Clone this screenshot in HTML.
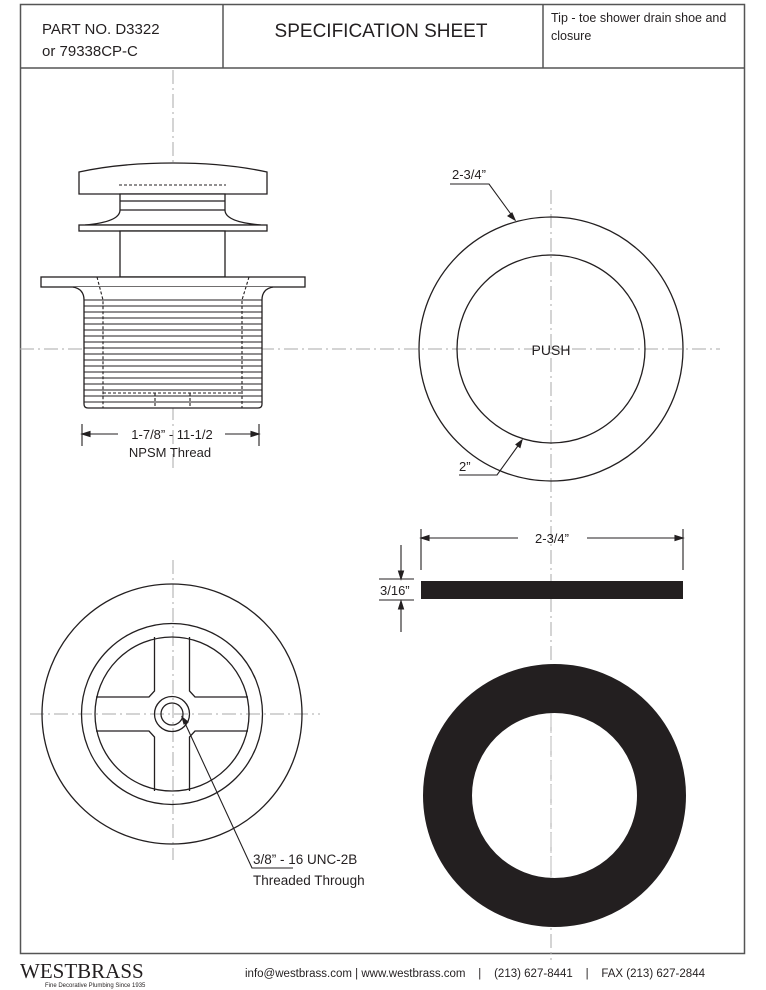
<!DOCTYPE html>
<html><head><meta charset="utf-8"><style>
html,body{margin:0;padding:0;background:#fff}
svg{display:block}
text{font-family:"Liberation Sans",sans-serif;fill:#231f20}
</style></head><body>
<svg width="766" height="990" viewBox="0 0 766 990" xmlns="http://www.w3.org/2000/svg">
<g fill="none" stroke="#231f20" stroke-width="1.3">
<rect x="20.5" y="4.5" width="724" height="949" stroke="#555" stroke-width="1.5"/>
<line x1="20" y1="68" x2="745" y2="68" stroke="#555" stroke-width="1.5"/>
<line x1="223" y1="4" x2="223" y2="68" stroke="#555" stroke-width="1.5"/>
<line x1="543" y1="4" x2="543" y2="68" stroke="#555" stroke-width="1.5"/>
</g>
<text x="42" y="34" font-size="15">PART NO.  D3322</text>
<text x="42" y="56" font-size="15">or 79338CP-C</text>
<text x="381" y="37" font-size="19" text-anchor="middle">SPECIFICATION SHEET</text>
<text x="551" y="22" font-size="12.5">Tip - toe shower drain shoe and</text>
<text x="551" y="40" font-size="12.5">closure</text>

<g stroke="#aaa" stroke-width="1" stroke-dasharray="14,4,2,4" fill="none">
<line x1="173" y1="70" x2="173" y2="470"/>
<line x1="20" y1="349" x2="720" y2="349"/>
<line x1="551" y1="190" x2="551" y2="960"/>
<line x1="173" y1="560" x2="173" y2="860"/>
<line x1="30" y1="714" x2="320" y2="714"/>
</g>

<g fill="#fff" stroke="#231f20" stroke-width="1.3">
<path d="M79 194 L79 172 Q120 163 173 163 Q226 163 267 172 L267 194 Z"/>
<path d="M120 194 L120 210 Q120 222 85 225 L261 225 Q225 222 225 210 L225 194 Z"/>
<line x1="120" y1="201" x2="225" y2="201"/>
<line x1="120" y1="210" x2="225" y2="210"/>
<rect x="79" y="225" width="188" height="6"/>
<rect x="120" y="231" width="105" height="46"/>
<rect x="41" y="277" width="264" height="10"/>
<path d="M73 287 Q84 289 84 300 L84 404 Q84 408 88 408 L258 408 Q262 408 262 404 L262 300 Q262 289 273 287"/>
</g>
<g stroke="#231f20" stroke-width="1.1">
<line x1="84" y1="300" x2="262" y2="300"/><line x1="84" y1="306" x2="262" y2="306"/>
<line x1="84" y1="312" x2="262" y2="312"/><line x1="84" y1="318" x2="262" y2="318"/>
<line x1="84" y1="324" x2="262" y2="324"/><line x1="84" y1="330" x2="262" y2="330"/>
<line x1="84" y1="336" x2="262" y2="336"/><line x1="84" y1="342" x2="262" y2="342"/>
<line x1="84" y1="348" x2="262" y2="348"/><line x1="84" y1="354" x2="262" y2="354"/>
<line x1="84" y1="360" x2="262" y2="360"/><line x1="84" y1="366" x2="262" y2="366"/>
<line x1="84" y1="372" x2="262" y2="372"/><line x1="84" y1="378" x2="262" y2="378"/>
<line x1="84" y1="384" x2="262" y2="384"/><line x1="84" y1="390" x2="262" y2="390"/>
<line x1="84" y1="396" x2="262" y2="396"/><line x1="84" y1="402" x2="262" y2="402"/>
</g>
<g stroke="#231f20" stroke-width="1.1" stroke-dasharray="3,2" fill="none">
<line x1="119" y1="185" x2="226" y2="185"/>
<path d="M97 277 L103 300 L103 408"/>
<path d="M249 277 L242 300 L242 408"/>
<line x1="103" y1="393" x2="242" y2="393"/>
<line x1="155" y1="393" x2="155" y2="408"/>
<line x1="190" y1="393" x2="190" y2="408"/>
</g>
<g stroke="#231f20" stroke-width="1.1" fill="#231f20">
<line x1="82" y1="424" x2="82" y2="446"/><line x1="259" y1="424" x2="259" y2="446"/>
<line x1="82" y1="434" x2="118" y2="434"/><line x1="225" y1="434" x2="259" y2="434"/>
<path d="M82 434 l8 -2.5 v5 z"/><path d="M259 434 l-8 -2.5 v5 z"/>
</g>
<text x="172" y="439" font-size="13" text-anchor="middle">1-7/8” - 11-1/2</text>
<text x="170" y="457" font-size="13" text-anchor="middle">NPSM Thread</text>

<g fill="none" stroke="#231f20" stroke-width="1.3">
<circle cx="551" cy="349" r="132"/>
<circle cx="551" cy="349" r="94"/>
</g>
<text x="551" y="355" font-size="14" text-anchor="middle">PUSH</text>
<g stroke="#231f20" stroke-width="1.1" fill="#231f20">
<polyline points="450,184 489,184 513,217" fill="none"/>
<path d="M515 220 l-7 -4 l4 -3 z"/>
<polyline points="459,475 497,475 520,443" fill="none"/>
<path d="M522 440 l-2 7.5 l-4 -3 z"/>
</g>
<text x="452" y="179" font-size="13">2-3/4”</text>
<text x="459" y="471" font-size="13">2”</text>

<rect x="421" y="581" width="262" height="18" fill="#231f20"/>
<g stroke="#231f20" stroke-width="1.1" fill="#231f20">
<line x1="421" y1="529" x2="421" y2="570"/><line x1="683" y1="529" x2="683" y2="570"/>
<line x1="421" y1="538" x2="518" y2="538"/><line x1="587" y1="538" x2="683" y2="538"/>
<path d="M421 538 l8 -2.5 v5 z"/><path d="M683 538 l-8 -2.5 v5 z"/>
<line x1="401" y1="545" x2="401" y2="578"/><path d="M401 579 l-2.5 -8 h5 z"/>
<line x1="401" y1="602" x2="401" y2="632"/><path d="M401 601 l-2.5 8 h5 z"/>
<line x1="379" y1="579" x2="414" y2="579"/><line x1="379" y1="600" x2="414" y2="600"/>
</g>
<text x="552" y="543" font-size="13" text-anchor="middle">2-3/4”</text>
<text x="380" y="595" font-size="13">3/16”</text>

<circle cx="554.5" cy="795.5" r="107" fill="none" stroke="#231f20" stroke-width="49"/>
<line x1="551" y1="713" x2="551" y2="880" stroke="#bbb" stroke-width="1" stroke-dasharray="14,4,2,4"/>

<g fill="none" stroke="#231f20" stroke-width="1.3">
<circle cx="172" cy="714" r="130"/>
<circle cx="172" cy="714" r="90.5"/>
<circle cx="172" cy="714" r="77"/>
<circle cx="172" cy="714" r="17.5"/>
<circle cx="172" cy="714" r="11"/>
<path d="M154.5 637 V691 L149 697 H96"/>
<path d="M189.5 637 V691 L195 697 H248"/>
<path d="M154.5 791 V737 L149 731 H96"/>
<path d="M189.5 791 V737 L195 731 H248"/>
</g>
<g stroke="#231f20" stroke-width="1.1" fill="#231f20">
<polyline points="293,868 252,868 184,721" fill="none"/>
<path d="M182 717 l6 5 l-4 2 z"/>
</g>
<text x="253" y="864" font-size="13.5">3/8” - 16 UNC-2B</text>
<text x="253" y="885" font-size="13.5">Threaded Through</text>

<text x="20" y="978" font-size="21" style="font-family:'Liberation Serif',serif">WESTBRASS</text>
<text x="45" y="987" font-size="6">Fine Decorative Plumbing Since 1935</text>
<text x="245" y="977" font-size="11.5" textLength="460" lengthAdjust="spacing" xml:space="preserve">info@westbrass.com | www.westbrass.com    |    (213) 627-8441    |    FAX (213) 627-2844</text>
</svg>
</body></html>
